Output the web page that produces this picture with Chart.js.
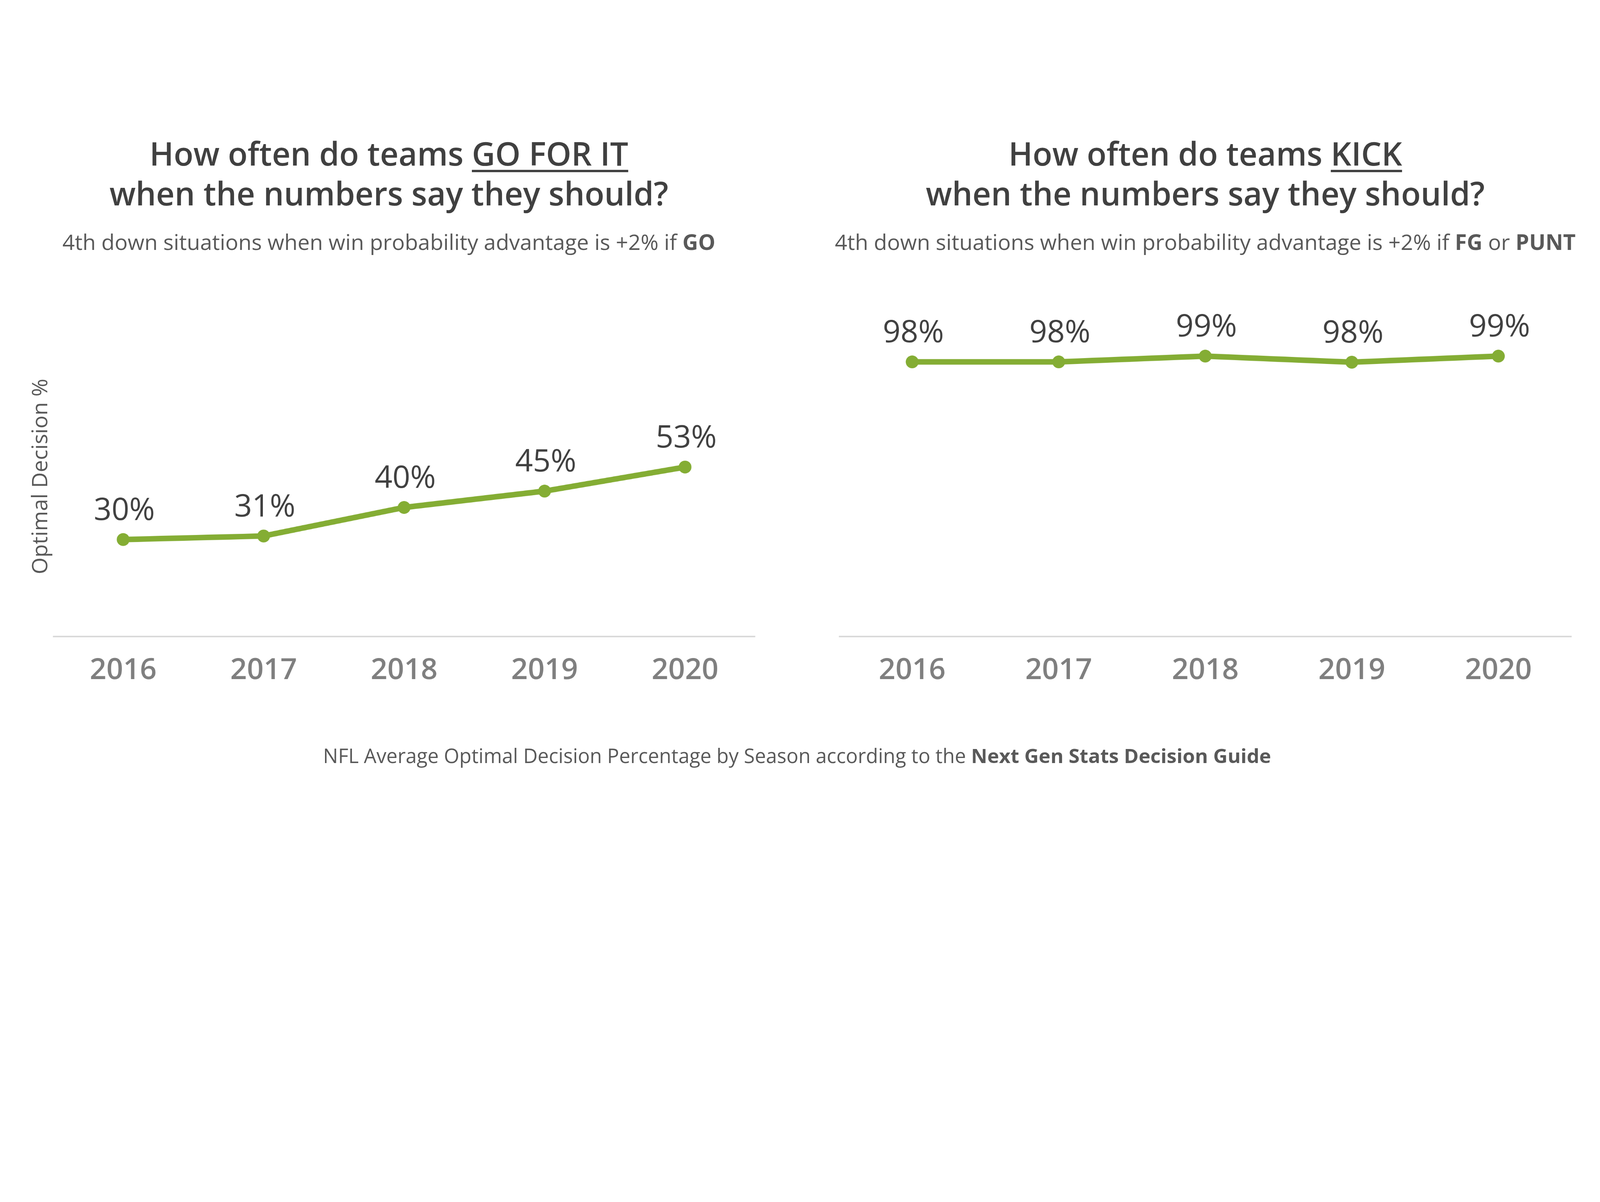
<!DOCTYPE html>
<html lang="en">
<head>
    <meta charset="UTF-8">
    <title>NFL Optimal Decision Percentage</title>
    <script src="https://cdn.jsdelivr.net/npm/chart.js"></script>
    <style>
        html, body {
            margin: 0;
            padding: 0;
            background: #ffffff;
            overflow: hidden;
        }

        #stage {
            position: absolute;
            left: 0;
            top: 0;
            width: 5472px;
            height: 3078px;
            transform-origin: 0 0;
            font-family: "Open Sans", Arial, sans-serif;
        }

        .title {
            position: absolute;
            width: 2600px;
            text-align: center;
            color: #404040;
            font-weight: 600;
            font-size: 110px;
            line-height: 136px;
            top: 456px;
        }

        .title u {
            text-decoration-thickness: 8px;
            text-underline-offset: 14px;
        }

        .subtitle {
            position: absolute;
            width: 2800px;
            text-align: center;
            color: #595959;
            font-size: 74px;
            top: 776px;
        }

        .ytitle {
            position: absolute;
            left: 133px;
            top: 1630px;
            transform: translate(-50%, -50%) rotate(-90deg);
            white-space: nowrap;
            color: #595959;
            font-size: 74px;
        }

        .footer {
            position: absolute;
            left: 0;
            width: 5452px;
            top: 2538px;
            text-align: center;
            color: #595959;
            font-size: 68px;
        }

        .chart-box {
            position: absolute;
            top: 1000px;
            height: 1449px;
        }
    </style>
</head>
<body>
<div id="stage">
    <div class="title" style="left: 30px;">How often do teams <u>GO FOR IT</u><br>when the numbers say they should?</div>
    <div class="title" style="left: 2822px;">How often do teams <u>KICK</u><br>when the numbers say they should?</div>

    <div class="subtitle" style="left: -70px;">4th down situations when win probability advantage is +2% if <b>GO</b></div>
    <div class="subtitle" style="left: 2722px;">4th down situations when win probability advantage is +2% if <b>FG</b> or <b>PUNT</b></div>

    <div class="ytitle">Optimal Decision %</div>

    <div class="chart-box" style="left: 181px; width: 2402px;">
        <canvas id="goChart"></canvas>
    </div>
    <div class="chart-box" style="left: 2869px; width: 2506px;">
        <canvas id="kickChart"></canvas>
    </div>

    <div class="footer">NFL Average Optimal Decision Percentage by Season according to the <b>Next Gen Stats Decision Guide</b></div>
</div>

<script>
    // Seasons and optimal decision rates (%)
    const seasons = ['2016', '2017', '2018', '2019', '2020'];
    const goForItPct = [30.2, 31.3, 40.2, 45.3, 52.8];
    const kickPct = [97.6, 97.6, 99.4, 97.5, 99.4];

    const green = '#84ad34';

    // fit the 5472-wide layout into whatever the window really is
    const stage = document.getElementById('stage');
    stage.style.transform = 'scale(' + (window.innerWidth / 5472) + ')';

    // draws the "30%" style labels above each point
    const pointLabels = {
        id: 'pointLabels',
        afterDatasetsDraw(chart) {
            const ctx = chart.ctx;
            const meta = chart.getDatasetMeta(0);
            const values = chart.data.datasets[0].data;
            ctx.save();
            ctx.font = '106px "Open Sans", Arial, sans-serif';
            ctx.fillStyle = '#404040';
            ctx.textAlign = 'center';
            ctx.textBaseline = 'middle';
            meta.data.forEach(function(pt, i) {
                ctx.fillText(Math.round(values[i]) + '%', pt.x + 4, pt.y - 97);
            });
            ctx.restore();
        }
    };

    function makeChart(id, values, yMin, yMax) {
        const ctx = document.getElementById(id).getContext('2d');
        return new Chart(ctx, {
            type: 'line',
            data: {
                labels: seasons,
                datasets: [{
                    data: values,
                    borderColor: green,
                    backgroundColor: green,
                    borderWidth: 19,
                    pointRadius: 22,
                    pointHoverRadius: 22,
                    pointBackgroundColor: green,
                    pointBorderWidth: 0,
                    tension: 0,
                    clip: false
                }]
            },
            options: {
                responsive: true,
                maintainAspectRatio: false,
                animation: false,
                layout: {
                    autoPadding: false,
                    padding: { top: 80, bottom: 44, left: 0, right: 0 }
                },
                plugins: {
                    legend: { display: false },
                    tooltip: { enabled: false }
                },
                scales: {
                    x: {
                        offset: true,
                        grid: { display: false },
                        border: { display: true, color: '#d9d9d9', width: 5 },
                        ticks: {
                            color: '#7f7f7f',
                            padding: 50,
                            font: { family: '"Open Sans", Arial, sans-serif', size: 100, weight: '600' }
                        }
                    },
                    y: {
                        display: false,
                        min: yMin,
                        max: yMax
                    }
                }
            },
            plugins: [pointLabels]
        });
    }

    makeChart('goChart', goForItPct, 0, 100);
    makeChart('kickChart', kickPct, 12, 112);
</script>

</body>
</html>
